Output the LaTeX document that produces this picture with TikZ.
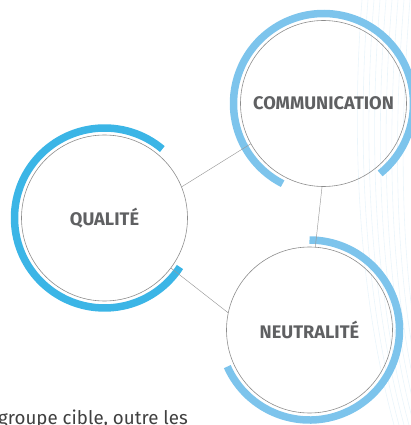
\documentclass[tikz,border=0pt]{standalone}
\usepackage{fontspec}
\setmainfont{Fira Sans}
\usepackage{tikz}
\usetikzlibrary{positioning}

\definecolor{ringblue}{RGB}{59,181,230}
\definecolor{paleblue}{RGB}{125,196,236}
\definecolor{wavecol}{RGB}{234,245,251}
\definecolor{labelgray}{RGB}{95,96,98}

\begin{document}
\begin{tikzpicture}[x=1bp, y=1bp,
    pillar/.style={circle, draw=black!45, line width=0.6bp, minimum size=166bp,
      inner sep=0pt, text=labelgray, font=\fontsize{18.3}{21}\selectfont\bfseries},
    halo/.style={line width=7.5bp, line cap=butt},
    link/.style={draw=black!40, line width=0.45bp},
    wave/.style={draw=wavecol, line width=0.6bp}]
  \useasboundingbox (0,0) rectangle (411,425);
  \clip (0,0) rectangle (411,425);

  % faint waves behind everything
  \foreach \i in {0,...,8}
    \draw[wave] (362+6*\i,425) .. controls (352+6*\i,300) and (356+5*\i,140) .. (394+5*\i,0);

  % The three circles
  \node[pillar] (qual) at (104.5,207) {QUALITÉ};
  \node[pillar] (comm) at (323.5,321.5) {COMMUNICATION};
  \node[pillar] (neut) at (309.5,95) {NEUTRALITÉ};

  % Blue rings, left open on one side
  \draw[halo, ringblue] ([shift={(50:90)}]qual.center) arc (50:327:90);
  \draw[halo, paleblue] ([shift={(-51:90)}]comm.center) arc (-51:243:90);
  \draw[halo, paleblue] ([shift={(-156:90)}]neut.center) arc (-156:90:90);

  % connectors
  \draw[link] (qual.22) -- (comm.209);
  \draw[link] (comm.269) -- (neut.86);
  \draw[link] (qual.-37) -- (neut.168);

  % running text cut at the bottom
  \node[anchor=base west, inner sep=0pt, text=black!75,
    font=\fontsize{18.8}{21}\selectfont] (txt) at (-2,0.5) {groupe cible, outre les};
\end{tikzpicture}
\end{document}
